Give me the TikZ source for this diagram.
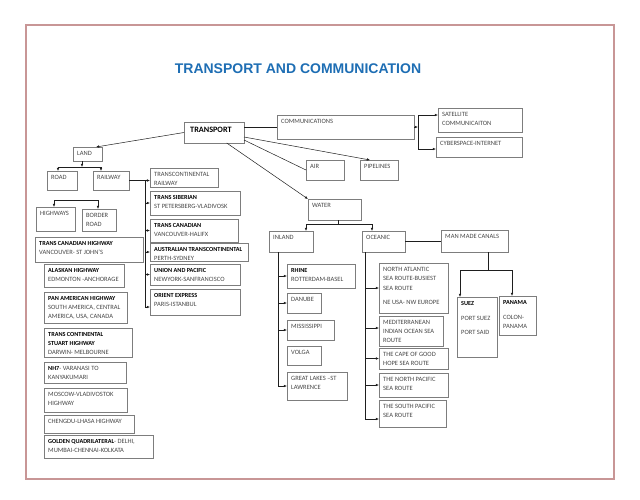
\documentclass[tikz,border=0pt]{standalone}
\usepackage{fontspec}
\setmainfont{Carlito}
\newfontfamily\titlefont{Liberation Sans}
\usetikzlibrary{arrows.meta,calc}
\definecolor{framec}{RGB}{200,150,150}
\definecolor{titlec}{RGB}{30,110,180}
\definecolor{boxc}{RGB}{125,125,125}
\definecolor{txtc}{RGB}{70,70,70}
\definecolor{linec}{RGB}{30,30,30}
\newcommand\hd[1]{{\fontsize{6.2}{9.3}\selectfont\bfseries\color{black}#1}}
\newcommand\mybox[6]{%
  \node[box, minimum width={#4-#2}, minimum height={#5-#3}] (#1) at (#2,#3) {};
  \node[txt] at ([xshift=4pt,yshift=-4pt]#1.north west) {#6};}
\begin{document}
\begin{tikzpicture}[x=1pt,y=-1pt,
  box/.style={draw=boxc, line width=0.7pt, anchor=north west, inner sep=0pt, outer sep=0pt},
  txt/.style={font=\fontsize{6.5}{9.3}\selectfont, text=txtc, inner sep=0pt, align=left, anchor=north west},
  ln/.style={draw=linec, line width=0.5pt},
  arr/.style={ln, -{Latex[length=3.2pt,width=2.6pt]}},
  darr/.style={ln, {Latex[length=3.2pt,width=2.6pt]}-{Latex[length=3.2pt,width=2.6pt]}}]
\useasboundingbox (0,0) rectangle (640,499);
\fill[white] (0,0) rectangle (640,499);
\draw[framec, line width=1.6pt] (25.7,25) rectangle (614,479);
\node[font=\titlefont\bfseries\fontsize{14}{16}\selectfont, text=titlec] (title) at (298,69) {TRANSPORT AND COMMUNICATION};

% top level
\node[box, minimum width=60, minimum height=21] (TRANSPORT) at (184,122) {};
\node[txt, font=\bfseries\fontsize{8.2}{10}\selectfont, text=black] at ([xshift=6pt,yshift=-5pt]TRANSPORT.north west) {TRANSPORT};
\mybox{COMM}{277}{115}{414}{139}{COMMUNICATIONS}
\mybox{SAT}{438}{108}{522}{132}{SATELLITE\\COMMUNICAITON}
\mybox{CYB}{436}{137}{522}{157}{CYBERSPACE-INTERNET}
\mybox{AIR}{306}{160}{344}{180}{AIR}
\mybox{PIPE}{360}{160}{398}{180}{PIPELINES}
\mybox{WATER}{308}{199}{361}{220}{WATER}
\mybox{INLAND}{269}{231}{313}{252}{INLAND}
\mybox{OCEANIC}{362}{231}{405}{252}{OCEANIC}
\mybox{MMC}{441}{230}{508}{252}{MAN MADE CANALS}
\mybox{LAND}{73}{147}{102}{161}{LAND}
\mybox{ROAD}{47}{171}{77}{190}{ROAD}
\mybox{RAILWAY}{93}{171}{129}{190}{RAILWAY}
\mybox{HIGHWAYS}{36}{207}{75}{231}{HIGHWAYS}
\mybox{BORDER}{82}{209}{116}{231}{BORDER\\ROAD}

% highways
\mybox{TCH}{35}{237}{143}{262}{\hd{TRANS CANADIAN HIGHWAY}\\VANCOUVER- ST JOHN’S}
\mybox{ALK}{44}{264}{124}{287}{\hd{ALASKAN HIGHWAY}\\EDMONTON -ANCHORAGE}
\mybox{PAN}{44}{292}{127}{323}{\hd{PAN AMERICAN HIGHWAY}\\SOUTH AMERICA, CENTRAL\\AMERICA, USA, CANADA}
\mybox{STU}{44}{328}{132}{357}{\hd{TRANS CONTINENTAL}\\\hd{STUART HIGHWAY}\\DARWIN- MELBOURNE}
\mybox{NH}{44}{362}{126}{383}{\hd{NH7}- VARANASI TO\\KANYAKUMARI}
\mybox{MOS}{44}{388}{127}{412}{MOSCOW-VLADIVOSTOK\\HIGHWAY}
\mybox{CHE}{44}{415}{134}{433}{CHENGDU-LHASA HIGHWAY}
\mybox{GOL}{44}{435}{153}{458}{\hd{GOLDEN QUADRILATERAL}- DELHI,\\MUMBAI-CHENNAI-KOLKATA}

% railways
\mybox{TRC}{150}{168}{218}{187}{TRANSCONTINENTAL\\RAILWAY}
\mybox{TSB}{150}{191}{240}{215}{\hd{TRANS SIBERIAN}\\ST PETERSBERG-VLADIVOSK}
\mybox{TCN}{150}{219}{238}{242}{\hd{TRANS CANADIAN}\\VANCOUVER-HALIFX}
\mybox{AUS}{150}{243}{248}{261}{\hd{AUSTRALIAN TRANSCONTINENTAL}\\PERTH-SYDNEY}
\mybox{UNP}{150}{264}{240}{285}{\hd{UNION AND PACIFIC}\\NEWYORK-SANFRANCISCO}
\mybox{ORX}{150}{289}{240}{315}{\hd{ORIENT EXPRESS}\\PARIS-ISTANBUL}

% inland
\mybox{RHINE}{287}{264}{355}{288}{\hd{RHINE}\\ROTTERDAM-BASEL}
\mybox{DANUBE}{287}{293}{321}{313}{DANUBE}
\mybox{MISS}{287}{320}{334}{340}{MISSISSIPPI}
\mybox{VOLGA}{287}{346}{321}{365}{VOLGA}
\mybox{GL}{287}{372}{347}{400}{GREAT LAKES –ST\\LAWRENCE}

% oceanic
\mybox{NA}{379}{263}{448}{313}{NORTH ATLANTIC\\SEA ROUTE-BUSIEST\\SEA ROUTE\\[5.5pt]NE USA- NW EUROPE}
\mybox{MED}{379}{316}{443}{346}{MEDITERRANEAN\\INDIAN OCEAN SEA\\ROUTE}
\mybox{CAPE}{379}{348}{448}{369}{THE CAPE OF GOOD\\HOPE SEA ROUTE}
\mybox{NP}{379}{373}{448}{397}{THE NORTH PACIFIC\\SEA ROUTE}
\mybox{SP}{379}{400}{446}{427}{THE SOUTH PACIFIC\\SEA ROUTE}

% canals
\mybox{SUEZ}{457}{297}{497}{357}{\hd{SUEZ}\\[5.5pt]PORT SUEZ\\[5.5pt]PORT SAID}
\mybox{PANAMA}{499}{296}{536}{335}{\hd{PANAMA}\\[6pt]COLON-\\PANAMA}

% connectors from TRANSPORT
\draw[ln] (TRANSPORT.east |- COMM.west) -- (COMM.west);
\draw[arr] ([yshift=-4.5pt]TRANSPORT.east) -- ([xshift=10pt]PIPE.north west);
\draw[ln] ([yshift=-7.5pt]TRANSPORT.east) -- (AIR.west);
\draw[arr] ([xshift=12.7pt]TRANSPORT.south) -- (WATER.north west);
\draw[arr] (TRANSPORT.west) -- ([xshift=8.5pt]LAND.north);

% communications
\coordinate (cj) at ([xshift=4pt]COMM.east);
\draw[arr] (COMM.east) -- (cj);
\draw[arr] (cj) |- ([yshift=5pt]SAT.west);
\draw[arr] (cj) |- ([yshift=-2pt]CYB.west);

% land
\coordinate (lj) at ([xshift=-5.5pt,yshift=-6pt]LAND.south);
\draw[arr] ([xshift=-5.5pt]LAND.south) -- (lj);
\draw[arr] (lj) -| ([xshift=-4pt]ROAD.north);
\draw[arr] (lj) -| ([xshift=-10pt]RAILWAY.north);
\draw[darr] ([xshift=-1.5pt]HIGHWAYS.north) -- ++(0,-7) -| ([xshift=-1pt]BORDER.north);

% railway
\coordinate (rj) at ([xshift=-4.5pt]TRC.west |- RAILWAY.east);
\draw[arr] (RAILWAY.east) -- (RAILWAY.east -| TRC.west);
\draw[arr] (rj) |- (TSB.west);
\draw[arr] (rj) |- (TCN.west);
\draw[arr] (rj) |- (AUS.west);
\draw[arr] (rj) |- (UNP.west);
\draw[arr] (rj) |- ([yshift=-5pt]ORX.west);

% water
\coordinate (wj) at ([xshift=3.5pt,yshift=-4pt]WATER.south);
\draw[ln] ([xshift=3.5pt]WATER.south) -- (wj);
\draw[arr] (wj) -| ([xshift=15pt]INLAND.north);
\draw[arr] (wj) -| ([xshift=-11.5pt]OCEANIC.north);

% inland
\coordinate (ij) at ([xshift=-13pt]INLAND.south);
\draw[arr] (ij) |- (RHINE.west);
\draw[arr] (ij) |- (DANUBE.west);
\draw[arr] (ij) |- (MISS.west);
\draw[arr] (ij) |- (GL.west);

% oceanic
\coordinate (oj) at ([xshift=-18.5pt]OCEANIC.south);
\draw[arr] (oj) |- (NA.west);
\draw[arr] (oj) |- ([yshift=3pt]MED.west);
\draw[arr] (oj) |- (CAPE.west);
\draw[arr] (oj) |- (NP.west);
\draw[arr] (oj) |- ([yshift=-5.5pt]SP.west);
\draw[ln] (OCEANIC.east) -- (OCEANIC.east -| MMC.west);

% canals
\coordinate (mj) at ([xshift=13.5pt,yshift=-18pt]MMC.south);
\draw[ln] ([xshift=13.5pt]MMC.south) -- (mj);
\draw[arr] (mj) -| ([xshift=-17pt]SUEZ.north);
\draw[arr] (mj) -| ([xshift=-5.5pt]PANAMA.north);
\end{tikzpicture}
\end{document}
